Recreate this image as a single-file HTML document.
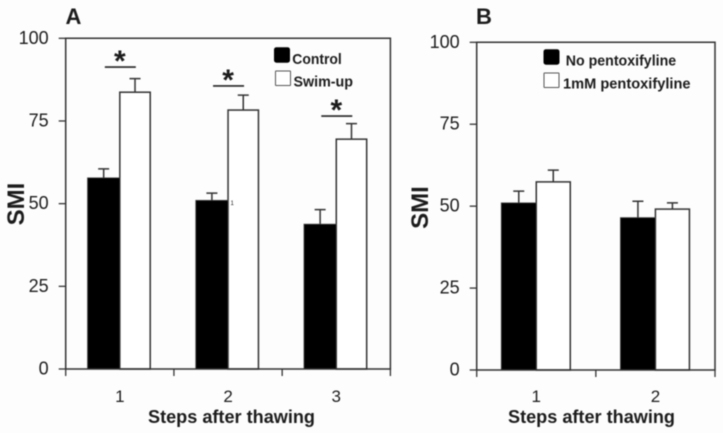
<!DOCTYPE html>
<html lang="en">
<head>
<meta charset="utf-8">
<title>SMI after thawing</title>
<style>
html,body{margin:0;padding:0;background:#fdfdfd;width:723px;height:433px;overflow:hidden}
svg{display:block;filter:blur(0.45px)}
text{font-family:"Liberation Sans",sans-serif;fill:#1c1c1c}
</style>
</head>
<body>
<svg id="chart" width="723" height="433" viewBox="0 0 723 433" xmlns="http://www.w3.org/2000/svg"></svg>
<script>
const yTicks = [0, 25, 50, 75, 100];

const stepsA = ["1", "2", "3"];
const controlA = [57.8, 51, 43.8];
const controlErrA = [2.7, 2.2, 4.4];
const swimUpA = [83.7, 78.3, 69.5];
const swimUpErrA = [4.1, 4.5, 4.7];
const significanceA = [91.3, 85.6, 76.5];

const stepsB = ["1", "2"];
const noPentoxB = [51, 46.5];
const noPentoxErrB = [3.6, 5];
const pentoxB = [57.4, 49.1];
const pentoxErrB = [3.6, 1.9];

const svg = document.getElementById('chart');
const NS = 'http://www.w3.org/2000/svg';
const INK = '#333';

function el(tag, attrs, parent) {
  const e = document.createElementNS(NS, tag);
  for (const k in attrs) e.setAttribute(k, attrs[k]);
  (parent || svg).appendChild(e);
  return e;
}
function label(str, attrs, parent) {
  const t = el('text', attrs, parent);
  t.textContent = str;
  return t;
}

function drawPanel(cfg) {
  const g = el('g', {});
  
  

  const yScale = v => cfg.y0 + (cfg.y100 - cfg.y0) * v / 100;
  const catW = (cfg.right - cfg.left) / cfg.cats.length;
  const xScale = i => cfg.left + (i + 0.5) * catW;

  cfg.cats.forEach((cat, i) => {
    const c = xScale(i);
    const yA = yScale(cfg.a[i]);
    const yAe = yScale(cfg.a[i] + cfg.aErr[i]);
    const yB = yScale(cfg.b[i]);
    const yBe = yScale(cfg.b[i] + cfg.bErr[i]);
    const cxA = c - cfg.barA / 2;
    const cxB = c + cfg.barB / 2;

    const errA = el('path', {d: `M${cxA} ${yA}V${yAe}M${cxA - 5.5} ${yAe}H${cxA + 5.5}`, stroke: INK, 'stroke-width': 1.5, fill: 'none'}, g);
    
    

    const errB = el('path', {d: `M${cxB} ${yB}V${yBe}M${cxB - 5.5} ${yBe}H${cxB + 5.5}`, stroke: INK, 'stroke-width': 1.5, fill: 'none'}, g);
    
    

    const barB = el('rect', {x: c, y: yB, width: cfg.barB, height: cfg.y0 - yB, fill: '#fff', stroke: INK, 'stroke-width': 1.5}, g);
    
    

    const barA = el('rect', {x: c - cfg.barA, y: yA, width: cfg.barA, height: cfg.y0 - yA, fill: '#000', stroke: '#444', 'stroke-width': 0.8}, g);
    
    

    const xl = label(cat, {x: c, y: 402, 'font-size': 17, 'text-anchor': 'middle'}, g);
    
    

    if (cfg.sig) {
      const ys = yScale(cfg.sig[i]);
      const line = el('line', {x1: c - 15, x2: c + 16, y1: ys, y2: ys, stroke: '#222', 'stroke-width': 1.6}, g);
      
      
      const star = label('*', {x: c, y: ys + 4, 'font-size': 30, 'font-weight': 700, 'text-anchor': 'middle', fill: '#000'}, g);
      
      
    }
  });

  const frame = el('path', {d: `M${cfg.left} ${cfg.y0}V${cfg.y100}H${cfg.right}V${cfg.y0}H${cfg.left}`, stroke: INK, 'stroke-width': 1.5, fill: 'none'}, g);
  
  

  yTicks.forEach(v => {
    const y = yScale(v);
    const tick = el('line', {x1: cfg.left - 7, x2: cfg.left, y1: y, y2: y, stroke: INK, 'stroke-width': 1.3}, g);
    
    
    const tl = label(String(v), {x: cfg.left - 17, y: y + 5.5, 'font-size': 18, 'text-anchor': 'end'}, g);
    
    
  });

  for (let i = 0; i <= cfg.cats.length; i++) {
    const x = cfg.left + i * catW;
    const tick = el('line', {x1: x, x2: x, y1: cfg.y0, y2: cfg.y0 + 7, stroke: INK, 'stroke-width': 1.3}, g);
    
    
  }

  const xTitle = label('Steps after thawing', {x: cfg.xTitleX, y: 423, 'font-size': 18.5, 'font-weight': 700, textLength: 167, lengthAdjust: 'spacingAndGlyphs', fill: '#111'}, g);
  
  

  const yTitle = label('SMI', {transform: `translate(${cfg.yTitleX} ${cfg.yTitleY}) rotate(-90)`, 'font-size': 24, 'font-weight': 700, 'text-anchor': 'middle', fill: '#111'}, g);
  
  

  const letter = label(cfg.letter, {x: cfg.letterX, y: 24, 'font-size': 22, 'font-weight': 700, fill: '#111'}, g);
  
  

  cfg.legend.forEach((item, i) => {
    const sw = el('rect', {x: item.bx, y: item.by, width: 15, height: 14.5, rx: i === 0 ? 2 : 0.5, fill: i === 0 ? '#000' : '#fff', stroke: i === 0 ? '#000' : '#555', 'stroke-width': 1}, g);
    
    
    const lt = label(item.text, {x: item.tx, y: item.ty, 'font-size': 15, 'font-weight': 700, textLength: item.tw, lengthAdjust: 'spacingAndGlyphs', fill: '#111'}, g);
    
    
  });
}

drawPanel({
  id: 'panel-a', letter: 'A', letterX: 65.5,
  left: 65.7, right: 390.4, y0: 369, y100: 38.3,
  cats: stepsA, a: controlA, aErr: controlErrA, b: swimUpA, bErr: swimUpErrA, sig: significanceA,
  barA: 32.3, barB: 30.4,
  xTitleX: 148, yTitleX: 24, yTitleY: 204,
  legend: [
    {text: 'Control', bx: 274.5, by: 47.7, tx: 292.3, ty: 64, tw: 49.5},
    {text: 'Swim-up', bx: 275.5, by: 71, tx: 293.5, ty: 86.7, tw: 59.5}
  ]
});

drawPanel({
  id: 'panel-b', letter: 'B', letterX: 476,
  left: 476.7, right: 715, y0: 370, y100: 42.3,
  cats: stepsB, a: noPentoxB, aErr: noPentoxErrB, b: pentoxB, bErr: pentoxErrB, sig: null,
  barA: 35, barB: 34,
  xTitleX: 508, yTitleX: 428, yTitleY: 207.5,
  legend: [
    {text: 'No pentoxifyline', bx: 544, by: 49.7, tx: 565.7, ty: 65.7, tw: 110.5},
    {text: '1mM pentoxifyline', bx: 544, by: 73, tx: 563, ty: 88.3, tw: 127.5}
  ]
});

const stray = label('1', {x: 230.5, y: 205, 'font-size': 6});


</script>
</body>
</html>
